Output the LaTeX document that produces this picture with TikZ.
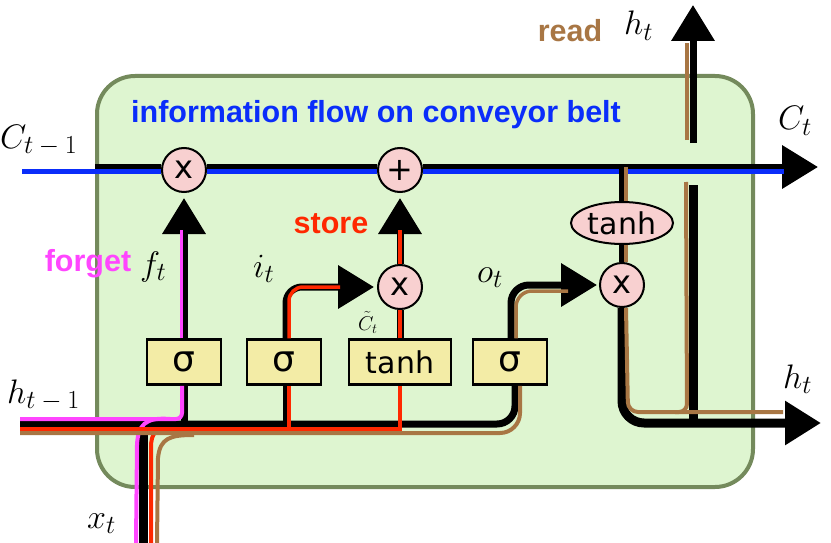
\RequirePackage{fix-cm}
\documentclass[tikz,border=0pt]{standalone}
\usepackage{fontspec}
\setsansfont{Liberation Sans}
\newfontfamily\opfont{DejaVu Sans}
\usetikzlibrary{arrows.meta,shapes.geometric}
\DeclareMathSizes{34}{34}{26}{20}
\newcommand{\tminus}{\mkern4mu-\mkern4mu}
\definecolor{cellfill}{RGB}{222,245,208}
\definecolor{celledge}{RGB}{116,138,92}
\definecolor{opfill}{RGB}{248,208,208}
\definecolor{gatefill}{RGB}{243,236,166}
\definecolor{beltblue}{RGB}{10,45,250}
\definecolor{forgetpink}{RGB}{255,70,255}
\definecolor{storered}{RGB}{255,40,0}
\definecolor{readbrown}{RGB}{168,118,68}
\begin{document}
\begin{tikzpicture}[x=1pt,y=-1pt,
    cellbox/.style={draw=celledge,fill=cellfill,line width=4pt,rounded corners=38pt,minimum width=656pt,minimum height=411pt},
    opcirc/.style={circle,draw,line width=2pt,fill=opfill,minimum size=44pt,inner sep=0pt,font=\opfont\fontsize{32}{32}\selectfont},
    gatebox/.style={draw,line width=2.5pt,fill=gatefill,minimum width=74pt,minimum height=45pt,inner sep=0pt,font=\opfont\fontsize{30}{30}\selectfont},
    tanhell/.style={ellipse,draw,line width=2pt,fill=opfill,minimum width=102pt,minimum height=42pt,inner sep=0pt,font=\opfont\fontsize{30}{30}\selectfont},
    wire/.style={line width=7pt},
    fatwire/.style={line width=9pt},
    trace/.style={line width=4pt},
    bigtip/.style={-{Triangle[length=36pt,width=42pt]}},
    mathlbl/.style={anchor=base west,inner sep=0pt,font=\fontsize{34}{40}\selectfont},
    notelbl/.style={anchor=base,inner sep=0pt,font=\sffamily\bfseries\fontsize{30.5}{36}\selectfont}]
    \useasboundingbox (0,0) rectangle (831,543);
    \node[cellbox] (cell) at (425,281.5) {};

    \node[opcirc] (mulf) at (184,170) {x};
    \node[opcirc] (addc) at (400,170) {+};
    \node[opcirc] (muli) at (400,287) {x};
    \node[opcirc] (mulo) at (622,285) {x};
    \node[gatebox] (sigf) at (184,362) {\fontsize{36}{36}\selectfont σ};
    \node[gatebox] (sigi) at (284,362) {\fontsize{36}{36}\selectfont σ};
    \node[gatebox,minimum width=102pt] (tanhc) at (400,362) {tanh};
    \node[gatebox] (sigo) at (510,362) {\fontsize{36}{36}\selectfont σ};
    \node[tanhell] (tanho) at (622,223) {tanh};

    \coordinate (cin) at (95,167);
    \coordinate (cout) at (818,167);
    \coordinate (bin) at (22,171.5);
    \coordinate (bout) at (784,171.5);
    \coordinate (ctap) at (622,167);
    \coordinate (hin) at (20,424);
    \coordinate (hinp) at (20,419);
    \coordinate (hinr) at (20,429);
    \coordinate (hinb) at (20,433);
    \coordinate (xin) at (143,543);
    \coordinate (xinp) at (136,543);
    \coordinate (xinr) at (151,543);
    \coordinate (xinb) at (157,543);
    \coordinate (pjoin) at (170,419);
    \coordinate (rjoin) at (170,429);
    \coordinate (bjoin) at (194,435);
    \coordinate (hout) at (821,423);
    \coordinate (bhout) at (783,412);
    \coordinate (vtop) at (693,185);
    \coordinate (bvtop) at (686,182);
    \coordinate (htap) at (693,143);
    \coordinate (htop) at (693,5);
    \coordinate (bhtap) at (687,140);
    \coordinate (bhtop) at (687,43);
    \coordinate (fend) at (181.5,230);
    \coordinate (send) at (400,230);
    \coordinate (iend) at (340,287);
    \coordinate (oend) at (568,291);

    \draw[wire] (cin) -- ([yshift=3pt]mulf.west);
    \draw[wire] ([yshift=3pt]mulf.east) -- ([yshift=3pt]addc.west);
    \draw[wire,bigtip] ([yshift=3pt]addc.east) -- (cout);
    \draw[beltblue,line width=5pt] (bin) -- ([yshift=-1.5pt]mulf.west);
    \draw[beltblue,line width=5pt] ([yshift=-1.5pt]mulf.east) -- ([yshift=-1.5pt]addc.west);
    \draw[beltblue,line width=5pt] ([yshift=-1.5pt]addc.east) -- (bout);

    \draw[wire,bigtip,shorten >=5pt] (sigf) -- (mulf);
    \draw[wire,bigtip,shorten >=5pt] (muli) -- (addc);
    \draw[wire] (tanhc) -- (muli);
    \draw[wire,bigtip,rounded corners=16pt,shorten >=3pt] ([xshift=2pt]sigi.north) |- (muli);
    \draw[wire,bigtip,rounded corners=18pt,shorten >=2pt] ([xshift=1pt]sigo.north) |- (mulo);

    \draw[wire,rounded corners=18pt] (hin) -| ([xshift=5pt]sigo.south);
    \draw[wire] (sigf.south) -- (sigf.south |- hin);
    \draw[wire] ([xshift=2pt]sigi.south) -- ([xshift=2pt]sigi.south |- hin);
    \draw[fatwire] (xin) -- (xin |- hin);

    \draw[forgetpink,line width=3.5pt] ([xshift=-2.5pt]sigf.north) -- (fend);
    \draw[forgetpink,trace,rounded corners=6pt] (hinp) -| ([xshift=-2pt]sigf.south);
    \draw[forgetpink,trace] (xinp) -- (137,445) .. controls (138,425) and (145,417) .. (pjoin);

    \draw[storered,trace] (hinr) -| (tanhc.south);
    \draw[storered,trace] ([xshift=5pt]sigi.south) -- ([xshift=5pt]sigi.south |- hinr);
    \draw[storered,trace] (xinr) -- (151,448) .. controls (151,432) and (156,429) .. (rjoin);
    \draw[storered,line width=3.5pt] (tanhc) -- (muli);
    \draw[storered,line width=3.5pt] (muli) -- (send);
    \draw[storered,line width=3.5pt,rounded corners=14pt] ([xshift=5pt]sigi.north) |- (iend);

    \draw[readbrown,trace,rounded corners=20pt] (hinb) -| ([xshift=10pt]sigo.south);
    \draw[readbrown,trace] (xinb) -- (158,458) .. controls (160,438) and (170,435) .. (bjoin);
    \draw[readbrown,line width=3.5pt,rounded corners=16pt] ([xshift=6pt]sigo.north) |- (oend);

    \draw[wire] (ctap) -- (tanho);
    \draw[wire] (tanho) -- (mulo);
    \draw[fatwire,bigtip,rounded corners=22pt] (mulo) |- (hout);
    \draw[fatwire] (vtop) -- (vtop |- hout);
    \draw[wire,bigtip] (htap) -- (htop);
    \draw[readbrown,trace] ([xshift=4pt]ctap) -- ([xshift=4pt]tanho.north);
    \draw[readbrown,trace] ([xshift=4pt]tanho.south) -- ([xshift=4pt]mulo.north);
    \draw[readbrown,trace,rounded corners=10pt] ([xshift=4pt]mulo.south) -- (628,412) -- (bhout);
    \draw[readbrown,trace,rounded corners=8pt] (bvtop) -- (687,412) -- (675,412);
    \draw[readbrown,trace] (bhtap) -- (bhtop);

    \node[mathlbl] (ctm1) at (0,148) {$C_{t\tminus1}$};
    \node[mathlbl] (ct) at (778,130) {$C_t$};
    \node[mathlbl] (htm1) at (7,403) {$h_{t\tminus1}$};
    \node[mathlbl] (htr) at (783,388) {$h_t$};
    \node[mathlbl] (htu) at (624,35) {$h_t$};
    \node[mathlbl] (xt) at (87,528) {$x_t$};
    \node[mathlbl] (ft) at (140,275) {$f_t$};
    \node[mathlbl] (it) at (253,277) {$i_t$};
    \node[mathlbl] (ot) at (477,282) {$o_t$};
    \node[mathlbl,font=\fontsize{20}{24}\selectfont] (ctil) at (358,330) {$\tilde{C}_t$};
    \node[notelbl,text=forgetpink] (fgt) at (88,271) {forget};
    \node[notelbl,text=storered] (sto) at (331,233) {store};
    \node[notelbl,text=readbrown] (rd) at (570,42) {read};
    \node[notelbl,text=beltblue] (belt) at (376,123) {information flow on conveyor belt};
\end{tikzpicture}
\end{document}
